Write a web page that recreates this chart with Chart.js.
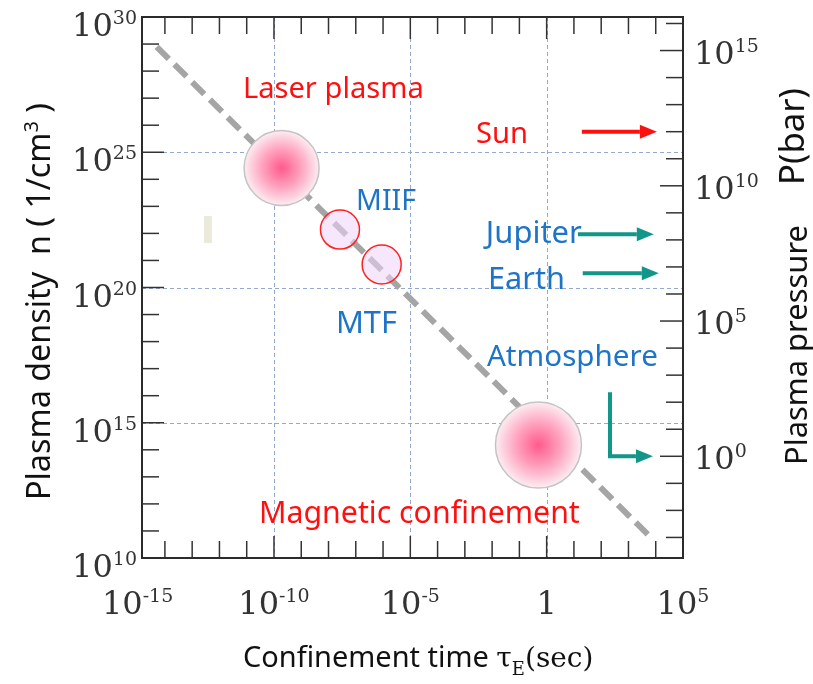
<!DOCTYPE html>
<html>
<head>
<meta charset="utf-8">
<title>Plasma density vs confinement time</title>
<script src="https://cdn.jsdelivr.net/npm/chart.js@4.4.1/dist/chart.umd.min.js"></script>
<style>
  body { margin: 0; background: #fff; }
  canvas { display: block; }
</style>
</head>
<body>
<canvas id="myChart" width="813" height="684"></canvas>
<script>
// axis decades (exponents of 10)
let tauMajor = [-15, -10, -5, 0, 5];
let densityMajor = [10, 15, 20, 25, 30];
let pressureMajor = [0, 5, 10, 15];

// scaling line n * tau = const
let lawsonTau = [5.0e-15, 6.8e3];
let lawsonDensity = [7.9e28, 5.6e10];

// plasma regimes
let regimeNames = ['Laser plasma', 'MIIF', 'MTF', 'Magnetic confinement'];
let regimeTau = [1.9e-10, 2.63e-8, 8.9e-7, 0.5];
let regimeDensity = [2.6e24, 1.38e22, 7.1e20, 1.5e14];

// natural pressures (bar) and where the arrows run on the time axis
let pressureNames = ['Sun', 'Jupiter', 'Earth', 'Atmosphere'];
let pressureBar = [1e12, 1.6e8, 5.8e6, 1];
let arrowFromTau = [19.5, 14, 21, 210];
let arrowToTau = [1.1e4, 8.5e3, 1.3e4, 7.9e3];
let atmosphereTop = 234; // bar, where the bent arrow starts

const RED = '#ff1010';
const BLUE = '#1e74c6';
const TEAL = '#12968a';
let regimeRadius = [37.5, 19.5, 19.5, 43];

// text placed on the plot: position in log10(tau), log10(n), width in px
let notes = [
  {text: 'Laser plasma', lx: -11.14, ly: 27.01, w: 181, color: RED},
  {text: 'Sun', lx: -2.59, ly: 25.34, w: 52, color: RED},
  {text: 'MIIF', lx: -6.99, ly: 22.87, w: 60, color: BLUE},
  {text: 'Jupiter', lx: -2.23, ly: 21.65, w: 96, color: BLUE},
  {text: 'Earth', lx: -2.15, ly: 19.94, w: 77, color: BLUE},
  {text: 'MTF', lx: -7.73, ly: 18.32, w: 61, color: BLUE},
  {text: 'Atmosphere', lx: -2.19, ly: 17.10, w: 171, color: BLUE},
  {text: 'Magnetic confinement', lx: -10.55, ly: 11.29, w: 321, color: RED}
];

function fitSize(ctx, txt, family, w) {
  ctx.font = '100px ' + family;
  return 100 * w / ctx.measureText(txt).width;
}

function drawPow(ctx, e, x, y, align, plainOne) {
  let main = (plainOne && e === 0) ? '1' : '10';
  let sup = (plainOne && e === 0) ? '' : String(e);
  ctx.fillStyle = '#333';
  ctx.textAlign = 'left';
  ctx.textBaseline = 'alphabetic';
  ctx.font = '32px "DejaVu Serif"';
  let w1 = ctx.measureText(main).width;
  ctx.font = '19px "DejaVu Serif"';
  let w2 = sup ? ctx.measureText(sup).width : 0;
  let left = x;
  if (align === 'right') left = x - w1 - w2;
  if (align === 'center') left = x - (w1 + w2) / 2;
  ctx.font = '32px "DejaVu Serif"';
  ctx.fillText(main, left, y);
  if (sup) {
    ctx.font = '19px "DejaVu Serif"';
    ctx.fillText(sup, left + w1, y - 12);
  }
}

function line(ctx, x1, y1, x2, y2) {
  ctx.beginPath();
  ctx.moveTo(x1, y1);
  ctx.lineTo(x2, y2);
  ctx.stroke();
}

function bubbleFill(c) {
  let chart = c.chart;
  if (c.dataIndex === 1 || c.dataIndex === 2) return 'rgba(240, 212, 250, 0.55)';
  if (!chart.chartArea || c.type !== 'data') return '#ff9cba';
  let x = chart.scales.x.getPixelForValue(regimeTau[c.dataIndex]);
  let y = chart.scales.y.getPixelForValue(regimeDensity[c.dataIndex]);
  let r = regimeRadius[c.dataIndex];
  let g = chart.ctx.createRadialGradient(x, y, 0, x, y, r);
  g.addColorStop(0, '#ff5a8c');
  g.addColorStop(0.5, '#ffa0bd');
  g.addColorStop(1, '#fdedf2');
  return g;
}

let framePlugin = {
  id: 'frame',
  beforeDatasetsDraw(chart) {
    let ctx = chart.ctx, a = chart.chartArea;
    let xs = chart.scales.x, ys = chart.scales.y;
    ctx.save();
    ctx.strokeStyle = '#93a9d2';
    ctx.lineWidth = 1;
    ctx.setLineDash([4, 3]);
    [-10, -5, 0].forEach(e => {
      let px = Math.round(xs.getPixelForValue(10 ** e)) + 0.5;
      line(ctx, px, a.top, px, a.bottom);
    });
    [15, 20, 25].forEach(e => {
      let py = Math.round(ys.getPixelForValue(10 ** e)) + 0.5;
      line(ctx, a.left, py, a.right, py);
    });
    ctx.setLineDash([]);
    // small stray mark
    ctx.fillStyle = '#ebe8dc';
    ctx.fillRect(xs.getPixelForValue(10 ** -12.57), ys.getPixelForValue(10 ** 22.64), 8, 27);
    ctx.restore();
  },
  afterDatasetsDraw(chart) {
    let ctx = chart.ctx, a = chart.chartArea;
    let xs = chart.scales.x, ys = chart.scales.y, ps = chart.scales.y2;
    ctx.save();

    // arrows
    pressureNames.forEach((name, i) => {
      let pts = chart.getDatasetMeta(2 + i).data;
      let color = i === 0 ? RED : TEAL;
      let tip = pts[pts.length - 1], prev = pts[pts.length - 2];
      let dx = tip.x - prev.x, dy = tip.y - prev.y;
      let d = Math.hypot(dx, dy);
      let ux = dx / d, uy = dy / d;
      let hl = 17, hw = 7;
      ctx.strokeStyle = color;
      ctx.fillStyle = color;
      ctx.lineWidth = 4;
      ctx.beginPath();
      ctx.moveTo(pts[0].x, pts[0].y);
      for (let k = 1; k < pts.length - 1; k++) ctx.lineTo(pts[k].x, pts[k].y);
      ctx.lineTo(tip.x - ux * hl, tip.y - uy * hl);
      ctx.stroke();
      ctx.beginPath();
      ctx.moveTo(tip.x, tip.y);
      ctx.lineTo(tip.x - ux * hl - uy * hw, tip.y - uy * hl + ux * hw);
      ctx.lineTo(tip.x - ux * hl + uy * hw, tip.y - uy * hl - ux * hw);
      ctx.closePath();
      ctx.fill();
    });

    // inward ticks
    ctx.strokeStyle = '#333';
    ctx.lineWidth = 1.5;
    for (let e = -14; e <= 4; e++) {
      let px = xs.getPixelForValue(10 ** e);
      let len = e % 5 === 0 ? 22 : 17;
      line(ctx, px, a.bottom, px, a.bottom - len);
      line(ctx, px, a.top, px, a.top + len);
    }
    for (let e = 11; e <= 29; e++) {
      let py = ys.getPixelForValue(10 ** e);
      line(ctx, a.left, py, a.left + (e % 5 === 0 ? 22 : 17), py);
    }
    for (let e = -3; e <= 16; e++) {
      let py = ps.getPixelForValue(10 ** e);
      line(ctx, a.right, py, a.right - (e % 5 === 0 ? 23 : 17), py);
    }

    // frame
    ctx.strokeStyle = '#2b2b2b';
    ctx.lineWidth = 2;
    ctx.strokeRect(a.left, a.top, a.right - a.left, a.bottom - a.top);

    // tick labels
    tauMajor.forEach(e => drawPow(ctx, e, xs.getPixelForValue(10 ** e), 614, 'center', true));
    densityMajor.forEach(e => drawPow(ctx, e, a.left - 5, ys.getPixelForValue(10 ** e) + 19, 'right'));
    pressureMajor.forEach(e => drawPow(ctx, e, a.right + 11, ps.getPixelForValue(10 ** e) + 13, 'left'));

    // notes
    ctx.textAlign = 'left';
    ctx.textBaseline = 'alphabetic';
    notes.forEach(n => {
      let s = fitSize(ctx, n.text, '"Noto Sans"', n.w);
      ctx.font = s + 'px "Noto Sans"';
      ctx.fillStyle = n.color;
      ctx.fillText(n.text, xs.getPixelForValue(10 ** n.lx), ys.getPixelForValue(10 ** n.ly));
    });

    // bottom title
    ctx.fillStyle = '#111';
    let t1 = 'Confinement time ';
    let s1 = fitSize(ctx, 'Confinement time', '"Noto Sans"', 246);
    ctx.font = s1 + 'px "Noto Sans"';
    let bx = 243;
    ctx.fillText(t1, bx, 667);
    bx += ctx.measureText(t1).width;
    ctx.font = '28px "DejaVu Serif"';
    ctx.fillText('\u03c4', bx, 667);
    bx += ctx.measureText('\u03c4').width;
    ctx.font = '18px "DejaVu Serif"';
    ctx.fillText('E', bx, 675);
    bx += ctx.measureText('E').width;
    ctx.font = '28px "DejaVu Serif"';
    ctx.fillText('(sec)', bx, 667);

    // left title
    ctx.save();
    ctx.translate(50, 500);
    ctx.rotate(-Math.PI / 2);
    let p1 = 'Plasma density  n ( 1/cm', p2 = '3', p3 = ' )';
    ctx.font = '100px "Noto Sans"';
    let w1 = ctx.measureText(p1).width, w3 = ctx.measureText(p3).width;
    ctx.font = '60px "Noto Sans"';
    let w2 = ctx.measureText(p2).width;
    let k = 397 / (w1 + w2 + w3);
    ctx.font = (100 * k) + 'px "Noto Sans"';
    ctx.fillText(p1, 0, 0);
    ctx.font = (60 * k) + 'px "Noto Sans"';
    ctx.fillText(p2, w1 * k, -38 * k);
    ctx.font = (100 * k) + 'px "Noto Sans"';
    ctx.fillText(p3, (w1 + w2) * k, 0);
    ctx.restore();

    // right title
    ctx.save();
    ctx.translate(807, 465);
    ctx.rotate(-Math.PI / 2);
    ctx.font = fitSize(ctx, 'Plasma pressure', '"Noto Sans"', 240) + 'px "Noto Sans"';
    ctx.fillText('Plasma pressure', 0, 0);
    ctx.restore();
    ctx.save();
    ctx.translate(804, 185);
    ctx.rotate(-Math.PI / 2);
    ctx.font = fitSize(ctx, 'P(bar)', '"Noto Sans"', 97) + 'px "Noto Sans"';
    ctx.fillText('P(bar)', 0, 0);
    ctx.restore();

    ctx.restore();
  }
};

let arrowSets = pressureNames.map((name, i) => {
  let pts = [{x: arrowFromTau[i], y: pressureBar[i]}, {x: arrowToTau[i], y: pressureBar[i]}];
  if (name === 'Atmosphere') {
    pts = [{x: arrowFromTau[i], y: atmosphereTop}, {x: arrowFromTau[i], y: pressureBar[i]}, {x: arrowToTau[i], y: pressureBar[i]}];
  }
  return {
    label: name,
    data: pts,
    yAxisID: 'y2',
    showLine: false,
    pointRadius: 0,
    order: 3
  };
});

let myChart = document.getElementById('myChart').getContext('2d');
let confinementChart = new Chart(myChart, {
  type: 'scatter',
  data: {
    datasets: [
      {
        label: 'regimes',
        data: regimeTau.map((t, i) => ({x: t, y: regimeDensity[i]})),
        pointRadius: regimeRadius,
        pointHoverRadius: regimeRadius,
        pointBackgroundColor: bubbleFill,
        pointBorderColor: ['#c4c4c4', '#ff2020', '#ff2020', '#c4c4c4'],
        pointBorderWidth: 1.5,
        order: 1
      },
      {
        label: 'scaling',
        type: 'line',
        data: lawsonTau.map((t, i) => ({x: t, y: lawsonDensity[i]})),
        borderColor: '#a5a5a5',
        borderWidth: 6,
        borderDash: [17, 8],
        pointRadius: 0,
        order: 2
      },
      ...arrowSets
    ]
  },
  options: {
    responsive: false,
    animation: false,
    events: [],
    layout: { autoPadding: false, padding: {left: 142, right: 130, top: 17, bottom: 126} },
    plugins: {
      legend: { display: false },
      tooltip: { enabled: false }
    },
    scales: {
      x: { type: 'logarithmic', display: false, min: 10 ** -14.84, max: 1e5 },
      y: { type: 'logarithmic', display: false, min: 1e10, max: 1e30 },
      y2: { type: 'logarithmic', display: false, position: 'right', min: 10 ** -3.76, max: 10 ** 16.24 }
    }
  },
  plugins: [framePlugin]
});
</script>
</body>
</html>
